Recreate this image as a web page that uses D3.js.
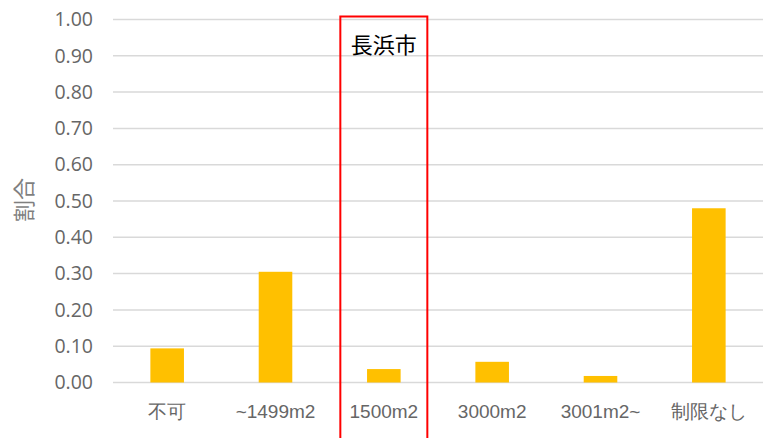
<!DOCTYPE html>
<html>
<head>
<meta charset="utf-8">
<script src="https://cdn.jsdelivr.net/npm/d3@7"></script>
<style>
  body { margin: 0; background: #fff; }
  svg { display: block; font-family: "Noto Sans CJK JP", "Noto Sans", sans-serif; }
</style>
</head>
<body>
<svg></svg>
<script>
let categories = ['不可', '~1499m2', '1500m2', '3000m2', '3001m2~', '制限なし']
let values = [0.094, 0.305, 0.037, 0.057, 0.018, 0.480]
let yTicks = [0, 0.1, 0.2, 0.3, 0.4, 0.5, 0.6, 0.7, 0.8, 0.9, 1.0]
let highlight = '1500m2'
let highlightLabel = '長浜市'
let yTitle = '割合'

let width = 763
let height = 438
let plotLeft = 113
let plotRight = 763
let plotTop = 19.5
let plotBottom = 382.5

let svg = d3.select('svg')
    .attr('width', width)
    .attr('height', height)

let xScale = d3.scaleBand()
    .domain(categories)
    .range([plotLeft, plotRight])
    .paddingInner(0.69)
    .paddingOuter(0.345)

let yScale = d3.scaleLinear()
    .domain([0, 1])
    .range([plotBottom, plotTop])

// gridlines
svg.append('g')
    .selectAll('line')
    .data(yTicks)
    .enter()
    .append('line')
    .attr('x1', plotLeft)
    .attr('x2', plotRight)
    .attr('y1', (d) => yScale(d))
    .attr('y2', (d) => yScale(d))
    .attr('stroke', '#d9d9d9')
    .attr('stroke-width', 1.5)

// y axis labels
let yAxis = d3.axisLeft(yScale)
    .tickValues(yTicks)
    .tickFormat(d3.format('.2f'))
    .tickSize(0)
    .tickPadding(0)
let yg = svg.append('g')
    .attr('transform', 'translate(93, 0)')
    .call(yAxis)
yg.select('.domain').remove()
yg.selectAll('text')
    .attr('fill', '#666666')
    .style('font-size', '19.5px')
    .style('font-family', '"Open Sans", sans-serif')

// bars
svg.selectAll('rect.bar')
    .data(values)
    .enter()
    .append('rect')
    .attr('class', 'bar')
    .attr('x', (d, i) => xScale(categories[i]))
    .attr('y', (d) => yScale(d))
    .attr('width', xScale.bandwidth())
    .attr('height', (d) => yScale(0) - yScale(d))
    .attr('fill', '#ffc000')

// x axis labels
let xAxis = d3.axisBottom(xScale)
    .tickSize(0)
    .tickPadding(0)
let xg = svg.append('g')
    .attr('transform', 'translate(0, ' + (plotBottom + 22) + ')')
    .call(xAxis)
xg.select('.domain').remove()
xg.selectAll('text')
    .attr('fill', '#666666')
    .style('font-size', '19px')

// y title
svg.append('text')
    .attr('transform', 'translate(32, 200) rotate(-90)')
    .attr('text-anchor', 'middle')
    .attr('fill', '#7f7f7f')
    .style('font-size', '22px')
    .text(yTitle)

// highlight box
let hx = xScale(highlight) + xScale.bandwidth() / 2
svg.append('rect')
    .attr('x', hx - 43.5)
    .attr('y', 16.5)
    .attr('width', 87)
    .attr('height', 440)
    .attr('fill', 'none')
    .attr('stroke', '#ff0000')
    .attr('stroke-width', 2)

svg.append('text')
    .attr('x', hx)
    .attr('y', 53)
    .attr('text-anchor', 'middle')
    .attr('fill', '#000')
    .style('font-size', '22px')
    .text(highlightLabel)
</script>
</body>
</html>
